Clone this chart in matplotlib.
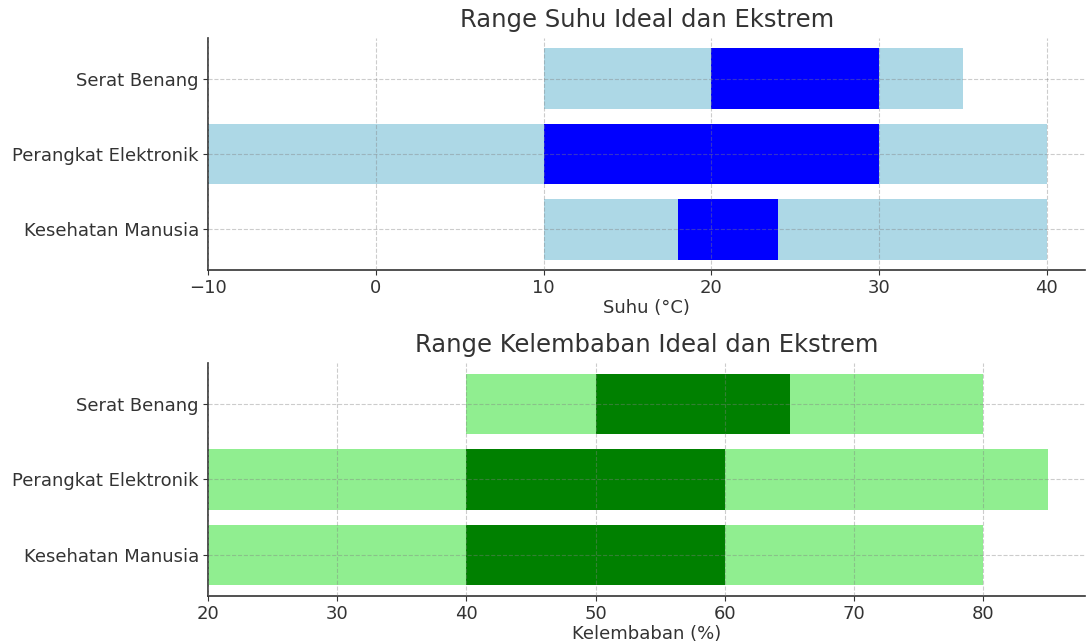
import matplotlib.pyplot as plt

# === DADOS ===
categories = ["Kesehatan Manusia", "Perangkat Elektronik", "Serat Benang"]

# Suhu (°C): rentang ekstrem dan ideal
temp_extreme_min = [10, -10, 10]
temp_extreme_max = [40, 40, 35]
temp_ideal_min = [18, 10, 20]
temp_ideal_max = [24, 30, 30]

# Kelembaban (%): rentang ekstrem dan ideal
hum_extreme_min = [20, 20, 40]
hum_extreme_max = [80, 85, 80]
hum_ideal_min = [40, 40, 50]
hum_ideal_max = [60, 60, 65]

TEXT = "#333333"
plt.rcParams["font.family"] = "DejaVu Sans"
plt.rcParams["text.color"] = TEXT
plt.rcParams["axes.labelcolor"] = TEXT
plt.rcParams["xtick.color"] = TEXT
plt.rcParams["ytick.color"] = TEXT

fig = plt.figure(figsize=(10.86, 6.43), dpi=100)
ax1 = fig.add_axes([0.1915, 0.580, 0.808, 0.361])
ax2 = fig.add_axes([0.1915, 0.0731, 0.808, 0.3624])


def draw(ax, ext_min, ext_max, ide_min, ide_max, c_ext, c_ide, title, xlabel, xlim):
    ext_w = [b - a for a, b in zip(ext_min, ext_max)]
    ide_w = [b - a for a, b in zip(ide_min, ide_max)]
    ax.barh(categories, ext_w, left=ext_min, color=c_ext, height=0.8)
    ax.barh(categories, ide_w, left=ide_min, color=c_ide, height=0.8)
    ax.set_title(title, fontsize=17.5, color=TEXT, pad=8)
    ax.set_xlabel(xlabel, fontsize=13, labelpad=1.5)
    ax.set_xlim(*xlim)
    ax.tick_params(axis="both", labelsize=13, length=3.5, pad=3)
    ax.grid(True, linestyle="--", color="gray", alpha=0.4, linewidth=0.8)
    ax.set_axisbelow(False)
    ax.spines["top"].set_visible(False)
    ax.spines["right"].set_visible(False)
    for s in ("left", "bottom"):
        ax.spines[s].set_color(TEXT)
        ax.spines[s].set_linewidth(1.2)


draw(ax1, temp_extreme_min, temp_extreme_max, temp_ideal_min, temp_ideal_max,
     "lightblue", "blue", "Range Suhu Ideal dan Ekstrem", "Suhu (°C)", (-10, 42.3))
draw(ax2, hum_extreme_min, hum_extreme_max, hum_ideal_min, hum_ideal_max,
     "lightgreen", "green", "Range Kelembaban Ideal dan Ekstrem", "Kelembaban (%)", (20, 87.9))

plt.savefig("out.png", dpi=100)
